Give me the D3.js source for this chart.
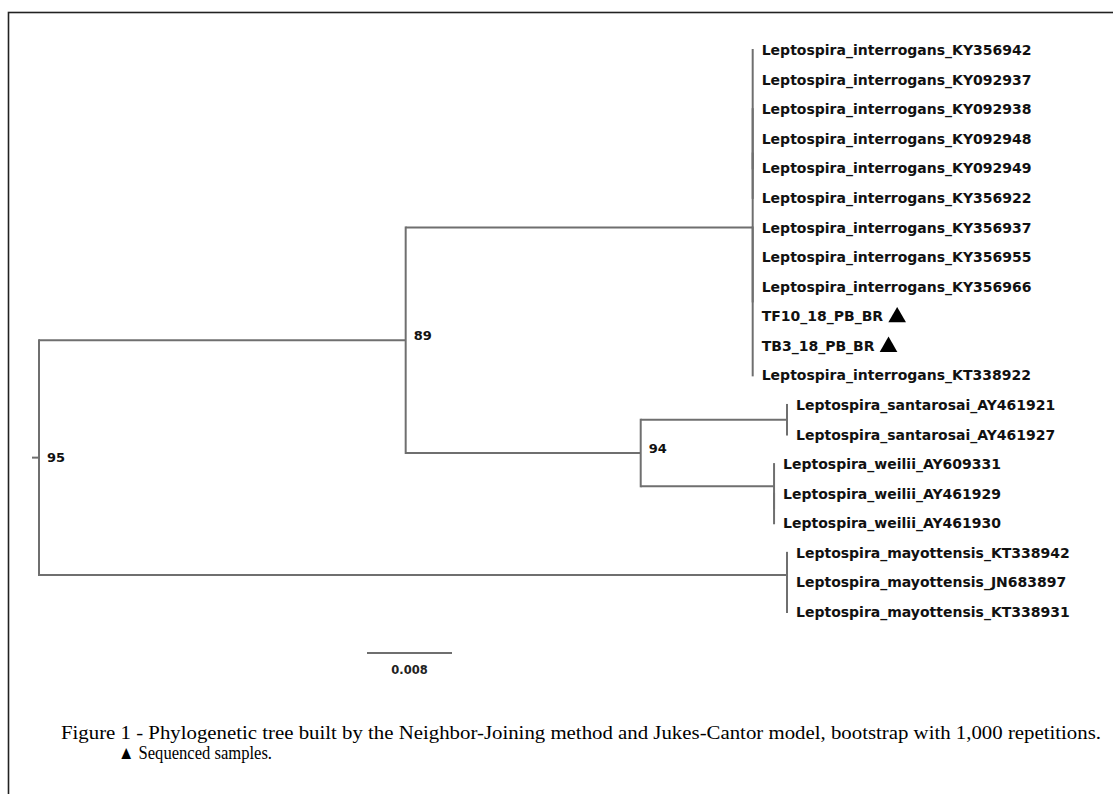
<!DOCTYPE html>
<html>
<head>
<meta charset="utf-8">
<script src="https://cdn.jsdelivr.net/npm/d3@7"></script>
<style>
body { margin: 0; background: #fff; }
svg { display: block; }
</style>
</head>
<body>
<script>
// leaves, top to bottom
var leafNames = [
  "Leptospira_interrogans_KY356942", "Leptospira_interrogans_KY092937",
  "Leptospira_interrogans_KY092938", "Leptospira_interrogans_KY092948",
  "Leptospira_interrogans_KY092949", "Leptospira_interrogans_KY356922",
  "Leptospira_interrogans_KY356937", "Leptospira_interrogans_KY356955",
  "Leptospira_interrogans_KY356966", "TF10_18_PB_BR", "TB3_18_PB_BR",
  "Leptospira_interrogans_KT338922",
  "Leptospira_santarosai_AY461921", "Leptospira_santarosai_AY461927",
  "Leptospira_weilii_AY609331", "Leptospira_weilii_AY461929", "Leptospira_weilii_AY461930",
  "Leptospira_mayottensis_KT338942", "Leptospira_mayottensis_JN683897", "Leptospira_mayottensis_KT338931"
];
var leafParents = ["iA1", "iA1", "iA1", "iA1", "iA1", "iA", "iB", "iB", "iB", "iB", "iB", "iB",
  "san", "san", "wei", "w2", "w2", "may", "m2", "m2"];

// internal nodes (zero length ones are unresolved)
var nodeNames   = ["root", "n89", "int", "iA", "iA1", "iB", "n94", "san", "wei", "w2", "may", "m2"];
var nodeParents = ["", "root", "n89", "int", "iA", "int", "n89", "n94", "n94", "wei", "root", "may"];
var nodeLengths = [0.00066, 0.03451, 0.03266, 0, 0, 0, 0.02212, 0.01377, 0.01255, 0, 0.0704, 0];

var bootNodes  = ["root", "n89", "n94"];
var bootValues = [95, 89, 94];

var markedLeaves = ["TF10_18_PB_BR", "TB3_18_PB_BR"];
var scaleValue = 0.008;
var scaleLabel = "0.008";

var captionLines = [
  "Figure 1 - Phylogenetic tree built by the Neighbor-Joining method and Jukes-Cantor model, bootstrap with 1,000 repetitions.",
  "\u25B2 Sequenced samples."
];

var w = 1113;
var h = 794;
var branchColor = "#6f6f6f";

var rows = [];
nodeNames.forEach(function(n, i) {
  rows.push({ id: n, parent: nodeParents[i] || null, len: nodeLengths[i], leaf: -1 });
});
leafNames.forEach(function(n, i) {
  rows.push({ id: n, parent: leafParents[i], len: 0, leaf: i });
});

var root = d3.stratify()
  .id(function(d) { return d.id; })
  .parentId(function(d) { return d.parent; })(rows);

var x = d3.scaleLinear().domain([0, scaleValue]).range([32, 32 + 85]);
var y = d3.scaleLinear().domain([0, leafNames.length - 1]).range([50, 612]);

root.eachBefore(function(d) {
  d.dist = (d.parent ? d.parent.dist : 0) + d.data.len;
});
root.eachAfter(function(d) {
  if (d.children) {
    d.pos = (d.children[0].pos + d.children[d.children.length - 1].pos) / 2;
  } else {
    d.pos = d.data.leaf;
  }
});

var svg = d3.select("body")
  .append("svg")
  .attr("width", w)
  .attr("height", h);

// frame
svg.append("rect")
  .attr("x", 8.5)
  .attr("y", 12.5)
  .attr("width", 1200)
  .attr("height", 1000)
  .attr("fill", "none")
  .attr("stroke", "#222")
  .attr("stroke-width", 1.6);

var g = svg.append("g");

// horizontal branches
g.selectAll("line.h")
  .data(root.descendants())
  .enter()
  .append("line")
  .attr("class", "h")
  .attr("x1", function(d) { return x(d.parent ? d.parent.dist : 0); })
  .attr("x2", function(d) { return x(d.dist); })
  .attr("y1", function(d) { return y(d.pos); })
  .attr("y2", function(d) { return y(d.pos); })
  .attr("stroke", branchColor)
  .attr("stroke-width", 2);

// vertical connectors
g.selectAll("line.v")
  .data(root.descendants().filter(function(d) { return d.children; }))
  .enter()
  .append("line")
  .attr("class", "v")
  .attr("x1", function(d) { return x(d.dist); })
  .attr("x2", function(d) { return x(d.dist); })
  .attr("y1", function(d) { return y(d3.min(d.children, function(c) { return c.pos; })) - 1; })
  .attr("y2", function(d) { return y(d3.max(d.children, function(c) { return c.pos; })) + 1; })
  .attr("stroke", branchColor)
  .attr("stroke-width", 2);

// leaf labels
var labels = g.selectAll("text.leaf")
  .data(root.leaves())
  .enter()
  .append("text")
  .attr("class", "leaf")
  .attr("x", function(d) { return x(d.dist) + 9; })
  .attr("y", function(d) { return y(d.pos); })
  .attr("dy", "0.36em")
  .style("font-family", "DejaVu Sans")
  .style("font-weight", "bold")
  .style("font-size", "14px")
  .attr("fill", "#111")
  .text(function(d) { return d.id; });

// triangles for sequenced samples
labels.filter(function(d) { return markedLeaves.indexOf(d.id) >= 0; })
  .each(function(d) {
    var len = this.getComputedTextLength();
    g.append("path")
      .attr("d", d3.symbol().type(d3.symbolTriangle).size(135)())
      .attr("transform", "translate(" + (x(d.dist) + 9 + len + 14) + "," + (y(d.pos) + 1) + ")")
      .attr("fill", "#000");
  });

// bootstrap values
g.selectAll("text.boot")
  .data(bootNodes)
  .enter()
  .append("text")
  .attr("class", "boot")
  .attr("x", function(id, i) { return x(root.find(function(n) { return n.id === id; }).dist) + 8; })
  .attr("y", function(id, i) {
    var n = root.find(function(n) { return n.id === id; });
    return y(n.pos) + (id === "root" ? 0 : -5);
  })
  .attr("dy", "0.36em")
  .style("font-family", "DejaVu Sans")
  .style("font-weight", "bold")
  .style("font-size", "13px")
  .attr("fill", "#111")
  .text(function(id, i) { return bootValues[i]; });

// scale bar
var sb = g.append("g").attr("transform", "translate(335,0)");
sb.append("line")
  .attr("x1", x(0))
  .attr("x2", x(scaleValue))
  .attr("y1", 653)
  .attr("y2", 653)
  .attr("stroke", branchColor)
  .attr("stroke-width", 2);
sb.append("text")
  .attr("x", (x(0) + x(scaleValue)) / 2)
  .attr("y", 674)
  .attr("text-anchor", "middle")
  .style("font-family", "DejaVu Sans")
  .style("font-weight", "bold")
  .style("font-size", "11.5px")
  .attr("fill", "#222")
  .text(scaleLabel);

// caption
svg.append("text")
  .attr("x", 61)
  .attr("y", 739)
  .attr("textLength", 1040)
  .attr("lengthAdjust", "spacingAndGlyphs")
  .style("font-family", "Liberation Serif")
  .style("font-size", "19px")
  .attr("fill", "#000")
  .text(captionLines[0]);

svg.append("text")
  .attr("x", 118)
  .attr("y", 759)
  .attr("textLength", 154)
  .attr("lengthAdjust", "spacingAndGlyphs")
  .style("font-family", "Liberation Serif")
  .style("font-size", "19px")
  .attr("fill", "#000")
  .text(captionLines[1]);
</script>
</body>
</html>
